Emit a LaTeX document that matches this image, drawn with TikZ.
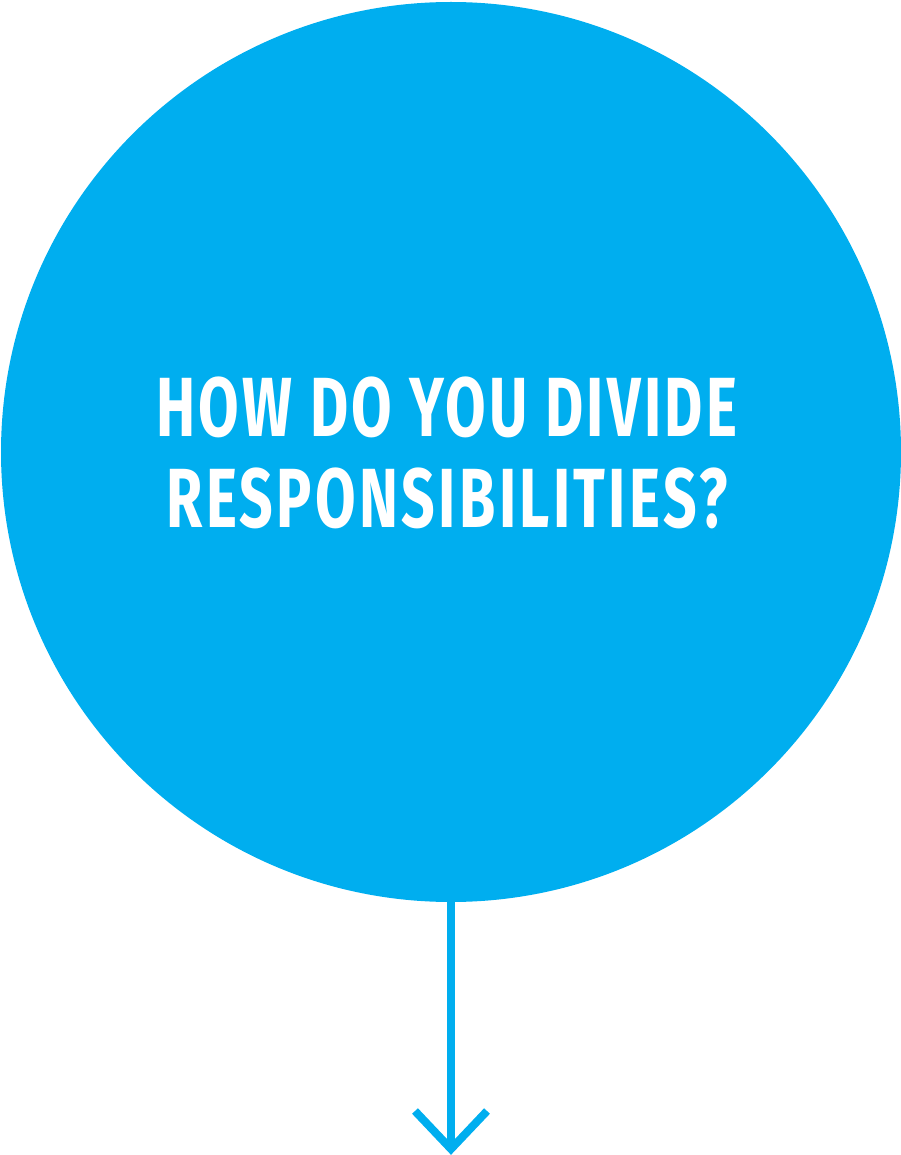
\documentclass[tikz,border=0pt]{standalone}
\usepackage{fontspec}
\setmainfont{Fira Sans}[FakeStretch=0.70, LetterSpace=4]
\usetikzlibrary{calc}
\definecolor{cyanb}{RGB}{0,174,239}
\tikzset{
  bigcircle/.style={circle, fill=cyanb, draw=none, minimum size=900pt, inner sep=0pt},
  title/.style={text=white, font=\fontsize{84}{91}\selectfont\bfseries, align=center},
  conn/.style={draw=cyanb, line width=8pt},
}
\begin{document}
\begin{tikzpicture}[x=1pt,y=-1pt]
\useasboundingbox (0,0) rectangle (900,1155);
\node[bigcircle] (q) at (451,452) {};
\node[title] (t) at (447,453) {HOW DO YOU DIVIDE\\RESPONSIBILITIES?};
\coordinate (tip) at (451,1149);
\draw[conn] (q.south) -- (tip);
\draw[conn, line join=miter] ($(tip)+(-36,-38)$) -- (tip) -- ($(tip)+(36,-38)$);
\end{tikzpicture}
\end{document}
